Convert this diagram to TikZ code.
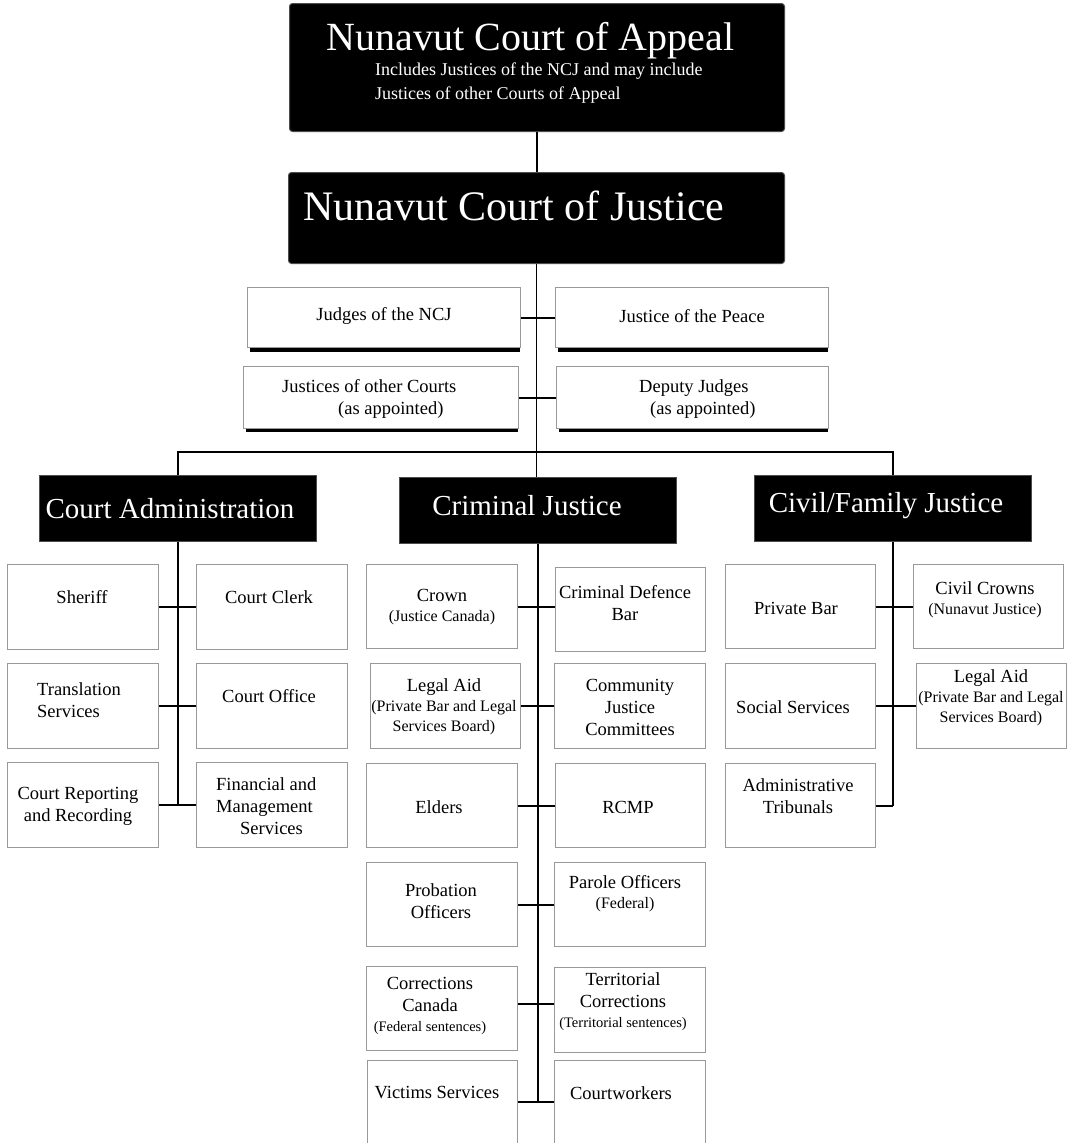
\documentclass[tikz,border=0pt]{standalone}
\usepackage{fontspec}
\setmainfont{Liberation Serif}
\newcommand\fmain{\fontsize{18.5}{22}\selectfont}
\newcommand\fsub{\fontsize{16}{20}\selectfont}
\newcommand\fsmall{\fontsize{14.5}{20}\selectfont}
\newcommand\fhead{\fontsize{29}{34}\selectfont}
\newcommand\bx[6]{\node[#1, anchor=north west, minimum width={(#5)-(#3)}, minimum height={(#6)-(#4)}] (#2) at (#3,#4) {};}
\tikzset{
  wbox/.style={draw=gray!80, fill=white, line width=1.3pt, inner sep=0pt},
  bbox/.style={draw=gray!60!black, fill=black, line width=1pt, inner sep=0pt},
  rbox/.style={bbox, rounded corners=3pt},
  lbl/.style={font=\fmain, align=center, inner sep=0pt},
  wlbl/.style={text=white, inner sep=0pt},
  conn/.style={draw=black, line width=1.8pt},
  thinconn/.style={draw=black, line width=1.4pt},
  shadowfill/.style={fill=black}
}
\begin{document}
\begin{tikzpicture}[x=1pt,y=-1pt]
\useasboundingbox (0,0) rectangle (1068,1143);
\fill[white] (0,0) rectangle (1068,1143);

% top black boxes
\bx{rbox}{appeal}{289}{3}{784}{131}
\node[wlbl, font=\fontsize{40}{44}\selectfont, anchor=base] (appealt) at (530.5,50) {Nunavut Court of Appeal};
\node[wlbl, font=\fontsize{18}{24}\selectfont, align=left, anchor=north west] (appeals) at (375,63) {Includes Justices of the NCJ and may include\\Justices of other Courts of Appeal};
\bx{rbox}{ncj}{288}{172}{784}{263}
\node[wlbl, font=\fontsize{42}{46}\selectfont, anchor=base west] (ncjt) at (303,220) {Nunavut Court of Justice};

% judges (with shadow)
\fill[shadowfill] (247+3,347) rectangle (520,351.5);
\fill[shadowfill] (555+3,347) rectangle (828,351.5);
\fill[shadowfill] (243+3,428) rectangle (518,432);
\fill[shadowfill] (556+3,428) rectangle (828,432);
\bx{wbox}{judges}{247}{287}{520}{347}
\bx{wbox}{jp}{555}{287}{828}{347}
\bx{wbox}{jother}{243}{366}{518}{428}
\bx{wbox}{deputy}{556}{366}{828}{428}
\node[lbl] (judgest) at (384,316) {Judges of the NCJ};
\node[lbl] (jpt) at (692,316) {Justice of the Peace};
\node[lbl, align=left, anchor=west] (jothert) at (282,399) {Justices of other Courts\\\hspace*{56pt}(as appointed)};
\node[lbl, align=left, anchor=west] (deputyt) at (639,399) {Deputy Judges\\\hspace*{11pt}(as appointed)};

% headings
\bx{bbox}{ca}{39}{475}{316}{541}
\bx{bbox}{cj}{399}{477}{676}{543}
\bx{bbox}{cf}{754}{475}{1031}{541}
\node[wlbl, font=\fhead, anchor=base] (cat) at (170,518) {Court Administration};
\node[wlbl, font=\fhead, anchor=base] (cjt) at (527,515) {Criminal Justice};
\node[wlbl, font=\fhead, anchor=base] (cft) at (886,512) {Civil/Family Justice};

% Court administration
\bx{wbox}{sheriff}{7}{564}{158}{649}
\bx{wbox}{clerk}{196}{564}{347}{649}
\bx{wbox}{transl}{7}{663}{158}{748}
\bx{wbox}{office}{196}{663}{347}{748}
\bx{wbox}{report}{7}{762}{158}{847}
\bx{wbox}{finance}{196}{762}{347}{847}
\node[lbl] (sherifft) at (82,597) {Sheriff};
\node[lbl] (clerkt) at (269,597) {Court Clerk};
\node[lbl, align=left, anchor=west] (translt) at (37,700) {Translation\\Services};
\node[lbl] (officet) at (269,696) {Court Office};
\node[lbl] (reportt) at (78,806) {Court Reporting\\and Recording};
\node[lbl, align=left, anchor=west] (financet) at (216,806) {Financial and\\Management\\\hspace*{24pt}Services};

% Criminal justice
\bx{wbox}{crown}{366}{564}{517}{648}
\bx{wbox}{cdb}{555}{567}{705}{651}
\bx{wbox}{legalaid}{370}{663}{520}{748}
\bx{wbox}{community}{554}{663}{705}{748}
\bx{wbox}{elders}{366}{763}{517}{847}
\bx{wbox}{rcmp}{555}{763}{705}{847}
\bx{wbox}{probation}{366}{862}{517}{946}
\bx{wbox}{parole}{554}{862}{705}{946}
\bx{wbox}{corrcan}{366}{966}{517}{1050}
\bx{wbox}{terrcorr}{554}{967}{705}{1052}
\bx{wbox}{victims}{367}{1060}{517}{1170}
\bx{wbox}{courtworkers}{554}{1060}{705}{1170}
\node[lbl] (crownt) at (442,607) {Crown\\[-2pt]{\fsub (Justice Canada)}};
\node[lbl] (cdbt) at (625,603) {Criminal Defence\\Bar};
\node[lbl] (legalaidt) at (444,707) {Legal Aid\\[-2pt]{\fsub (Private Bar and Legal}\\[-2pt]{\fsub Services Board)}};
\node[lbl] (communityt) at (630,707) {Community\\Justice\\Committees};
\node[lbl] (elderst) at (439,807) {Elders};
\node[lbl] (rcmpt) at (628,807) {RCMP};
\node[lbl] (probationt) at (441,901) {Probation\\Officers};
\node[lbl] (parolet) at (625,894) {Parole Officers\\[-2pt]{\fsub (Federal)}};
\node[lbl] (corrcant) at (430,1006) {Corrections\\Canada\\[-2pt]{\fsmall (Federal sentences)}};
\node[lbl] (terrcorrt) at (623,1002) {Territorial\\Corrections\\[-2pt]{\fsmall (Territorial sentences)}};
\node[lbl] (victimst) at (437,1093) {Victims Services};
\node[lbl] (courtworkerst) at (621,1093) {Courtworkers};

% Civil / family
\bx{wbox}{privatebar}{725}{564}{875}{648}
\bx{wbox}{civilcrowns}{913}{564}{1063}{648}
\bx{wbox}{social}{725}{663}{875}{748}
\bx{wbox}{legalaid2}{916}{663}{1066}{748}
\bx{wbox}{admintrib}{725}{763}{875}{847}
\node[lbl] (privatebart) at (796,608) {Private Bar};
\node[lbl] (civilcrownst) at (985,600) {Civil Crowns\\[-2pt]{\fsub (Nunavut Justice)}};
\node[lbl] (socialt) at (793,707) {Social Services};
\node[lbl] (legalaid2t) at (991,698) {Legal Aid\\[-2pt]{\fsub (Private Bar and Legal}\\[-2pt]{\fsub Services Board)}};
\node[lbl] (admintribt) at (798,796) {Administrative\\Tribunals};

% connectors
\coordinate (bar) at (537,452);
\coordinate (cjrow6) at (537,1102);
\draw[thinconn] (appeal.south) -- (appeal.south |- ncj.north);
\draw[conn] (ncj.south) -- (ncj.south |- cj.north);
\draw[conn] (judges.east) -- (jp.west);
\draw[conn] (jother.east) -- (deputy.west);
\draw[conn] (ca.north) |- (cf.north |- bar) -- (cf.north);

\draw[conn] (ca.south) -- (ca.south |- report.east);
\draw[conn] (sheriff.east) -- (clerk.west);
\draw[conn] (transl.east) -- (office.west);
\draw[conn] (report.east) -- (finance.west);

\draw[conn] (cj.south) -- (cj.south |- cjrow6);
\draw[conn] (crown.east) -- (crown.east -| cdb.west);
\draw[conn] (legalaid.east) -- (legalaid.east -| community.west);
\draw[conn] (elders.east) -- (elders.east -| rcmp.west);
\draw[conn] (probation.east) -- (probation.east -| parole.west);
\draw[conn] ([yshift=5pt]corrcan.east) -- ([yshift=5pt]corrcan.east -| terrcorr.west);
\draw[conn] (victims.east |- cjrow6) -- (courtworkers.west |- cjrow6);

\draw[conn] (cf.south) -- (cf.south |- admintrib.east);
\draw[conn] (privatebar.east) -- (privatebar.east -| civilcrowns.west);
\draw[conn] (social.east) -- (social.east -| legalaid2.west);
\draw[conn] (admintrib.east) -- (admintrib.east -| cf.south);
\end{tikzpicture}
\end{document}
